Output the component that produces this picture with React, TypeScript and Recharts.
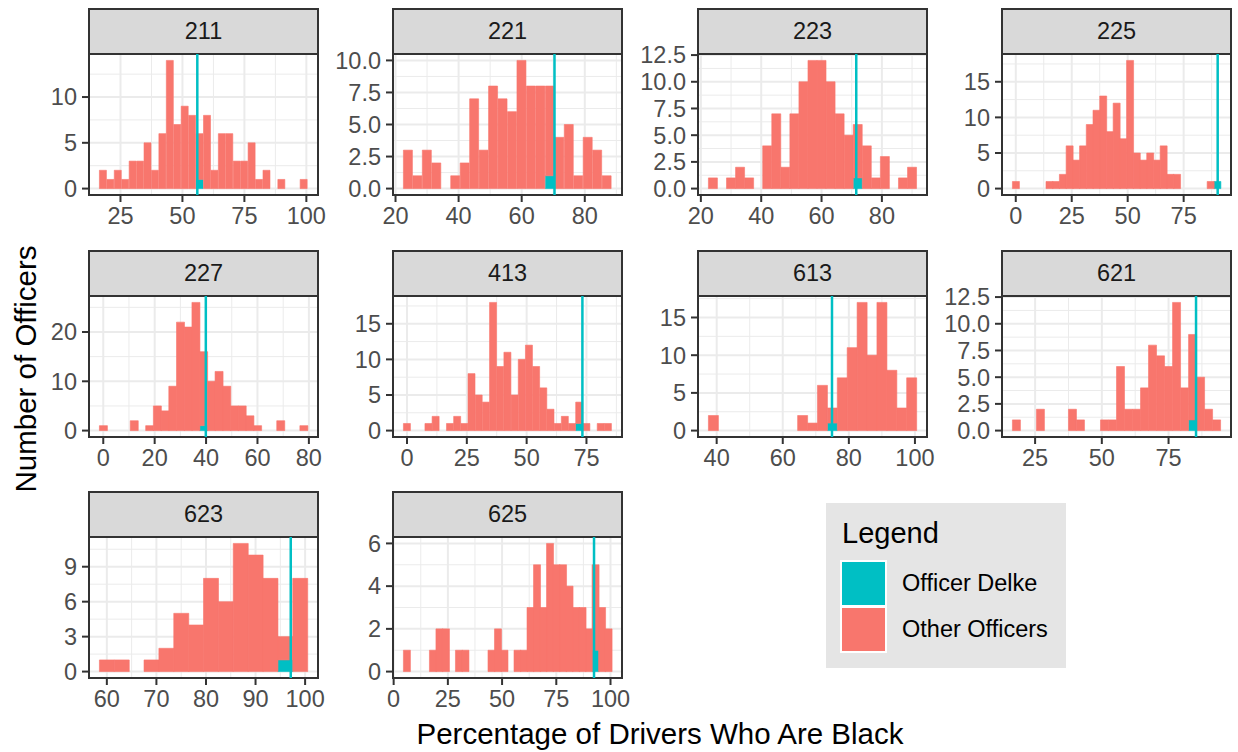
import React from "react";
import { BarChart, Bar, XAxis, YAxis, CartesianGrid, ReferenceLine, ReferenceArea } from "recharts";

const RED = "#F8766D";
const CYAN = "#00BFC4";
const FONT = '"Liberation Sans", Arial, Helvetica, sans-serif';

// facet order
const districts = ["211", "221", "223", "225", "227", "413", "613", "621", "623", "625"];

// centre of the first bin in each panel, bins are 3 points wide
const firstBin = [18, 24, 24, 0, 0, 0, 39, 18, 60, 6];
const BIN_W = 3;

// officers per bin (Delke included in his own bin)
const counts211 = [2, 1, 2, 1, 3, 3, 5, 2, 6, 14, 7, 9, 8, 6, 8, 2, 6, 6, 3, 3, 5, 1, 2, 0, 1, 0, 0, 1];
const counts221 = [3, 1, 3, 2, 0, 1, 2, 7, 3, 8, 7, 6, 10, 8, 8, 8, 4, 5, 1, 4, 3, 1];
const counts223 = [1, 0, 1, 2, 1, 0, 4, 7, 2, 7, 10, 12, 12, 10, 7, 5, 6, 4, 1, 3, 0, 1, 2];
const counts225 = [1, 0, 0, 0, 0, 1, 1, 2, 6, 4, 6, 9, 11, 13, 8, 12, 7, 18, 5, 4, 5, 4, 6, 2, 2, 0, 0, 0, 0, 1, 1];
const counts227 = [1, 0, 0, 0, 2, 0, 1, 5, 4, 9, 22, 21, 26, 16, 10, 12, 9, 5, 5, 3, 1, 0, 0, 2, 0, 0, 1];
const counts413 = [1, 0, 0, 1, 2, 0, 1, 2, 1, 8, 5, 4, 18, 9, 11, 5, 10, 12, 9, 6, 3, 1, 2, 1, 4, 1, 0, 1, 1];
const counts613 = [2, 0, 0, 0, 0, 0, 0, 0, 0, 2, 1, 6, 3, 7, 11, 17, 10, 17, 8, 3, 7];
const counts621 = [1, 0, 0, 2, 0, 0, 0, 2, 1, 0, 0, 1, 1, 6, 2, 2, 4, 8, 7, 6, 12, 4, 9, 5, 2, 1];
const counts623 = [1, 1, 0, 1, 2, 5, 4, 8, 6, 11, 10, 8, 3, 8];
const counts625 = [1, 0, 0, 0, 1, 2, 2, 0, 1, 1, 0, 0, 0, 1, 2, 1, 0, 1, 1, 3, 5, 3, 6, 5, 5, 4, 3, 3, 2, 5, 3, 2];
const binCounts = [counts211, counts221, counts223, counts225, counts227, counts413, counts613, counts621, counts623, counts625];

// Delke's own percentage, per district
const delkeShare = [56, 70.4, 71.5, 90.2, 39.9, 73.3, 74.9, 85.3, 97.1, 92.4];

const xBreaks = [
  [25, 50, 75, 100],
  [20, 40, 60, 80],
  [20, 40, 60, 80],
  [0, 25, 50, 75],
  [0, 20, 40, 60, 80],
  [0, 25, 50, 75],
  [40, 60, 80, 100],
  [25, 50, 75],
  [60, 70, 80, 90, 100],
  [0, 25, 50, 75, 100],
];
const yBreaks = [
  [0, 5, 10],
  [0, 2.5, 5, 7.5, 10],
  [0, 2.5, 5, 7.5, 10, 12.5],
  [0, 5, 10, 15],
  [0, 10, 20],
  [0, 5, 10, 15],
  [0, 5, 10, 15],
  [0, 2.5, 5, 7.5, 10, 12.5],
  [0, 3, 6, 9],
  [0, 2, 4, 6],
];

// layout
const colLeft = [89, 393, 698, 1002];
const rowTop = [54, 296, 537];
const PLOT_W = 229;
const PLOT_H = 141;
const STRIP_H = 46;
const Y_W = 85;
const X_H = 48;
const R_M = 26;
const T_M = 16;

const tickStyle = { fontSize: 23.5, fill: "#4D4D4D", fontFamily: FONT };

function minorBreaks(major: number[], lo: number, hi: number) {
  const step = major[1] - major[0];
  const out: number[] = [];
  for (let v = major[0] - step / 2; v <= hi; v += step) if (v >= lo) out.push(v);
  return out;
}

function toPx(axis: any, vals: number[]) {
  const s = axis && axis.scale;
  if (!s) return [];
  const f = typeof s === "function" ? s : typeof s.map === "function" ? (v: number) => s.map(v) : null;
  if (!f) return [];
  return vals.map((v) => f(v)).filter((p: number) => Number.isFinite(p));
}

function Panel({ i }: { i: number }) {
  const col = i % 4;
  const row = Math.floor(i / 4);
  const left = colLeft[col];
  const top = rowTop[row];
  const counts = binCounts[i];
  const start = firstBin[i];
  const dBin = Math.round((delkeShare[i] - start) / BIN_W);

  const data = counts.map((c, k) => ({
    x: start + k * BIN_W,
    delke: k === dBin ? 1 : 0,
    other: k === dBin ? c - 1 : c,
  }));

  const lo = start - BIN_W / 2;
  const hi = start + (counts.length - 1) * BIN_W + BIN_W / 2;
  const xr = hi - lo;
  const xDom: [number, number] = [lo - 0.05 * xr, hi + 0.05 * xr];
  const yMax = Math.max(...counts);
  const yDom: [number, number] = [-0.05 * yMax, yMax * 1.05];

  const xMaj = xBreaks[i].filter((v) => v >= xDom[0] && v <= xDom[1]);
  const yMaj = yBreaks[i].filter((v) => v >= yDom[0] && v <= yDom[1]);
  const xMin = minorBreaks(xBreaks[i], xDom[0], xDom[1]);
  const yMin = minorBreaks(yBreaks[i], yDom[0], yDom[1]);
  const decimals = yBreaks[i].some((v) => !Number.isInteger(v));

  return (
    <>
      <div
        style={{
          position: "absolute",
          left: left - 1,
          top: top - STRIP_H,
          width: PLOT_W + 2,
          height: STRIP_H + 1,
          boxSizing: "border-box",
          background: "#D9D9D9",
          border: "2px solid #333333",
          display: "flex",
          alignItems: "center",
          justifyContent: "center",
          fontFamily: FONT,
          fontSize: 23.5,
          color: "#1A1A1A",
        }}
      >
        {districts[i]}
      </div>
      <div style={{ position: "absolute", left: left - Y_W, top: top - T_M }}>
        <BarChart
          width={Y_W + PLOT_W + R_M}
          height={T_M + PLOT_H + X_H}
          data={data}
          margin={{ top: T_M, right: R_M, bottom: 0, left: 0 }}
          barCategoryGap={0}
          barGap={0}
        >
          <CartesianGrid
            stroke="#EBEBEB"
            strokeWidth={1}
            verticalCoordinatesGenerator={({ xAxis }: any) => toPx(xAxis, xMin)}
            horizontalCoordinatesGenerator={({ yAxis }: any) => toPx(yAxis, yMin)}
          />
          <CartesianGrid
            stroke="#EBEBEB"
            strokeWidth={2}
            verticalCoordinatesGenerator={({ xAxis }: any) => toPx(xAxis, xMaj)}
            horizontalCoordinatesGenerator={({ yAxis }: any) => toPx(yAxis, yMaj)}
          />
          <XAxis
            dataKey="x"
            type="number"
            domain={xDom}
            ticks={xMaj}
            allowDataOverflow
            interval={0}
            height={X_H}
            axisLine={false}
            tickSize={7}
            tickMargin={5}
            tickLine={{ stroke: "#333333", strokeWidth: 2 }}
            tick={tickStyle}
          />
          <YAxis
            type="number"
            domain={yDom}
            ticks={yMaj}
            allowDataOverflow
            interval={0}
            width={Y_W}
            axisLine={false}
            tickSize={7}
            tickMargin={5}
            tickLine={{ stroke: "#333333", strokeWidth: 2 }}
            tick={tickStyle}
            tickFormatter={(v: number) => (decimals ? v.toFixed(1) : String(v))}
          />
          <Bar dataKey="delke" stackId="s" fill={CYAN} stroke={CYAN} strokeWidth={0.6} isAnimationActive={false} />
          <Bar dataKey="other" stackId="s" fill={RED} stroke={RED} strokeWidth={0.6} isAnimationActive={false} />
          <ReferenceLine x={delkeShare[i]} stroke={CYAN} strokeWidth={2.5} />
          <ReferenceArea
            x1={xDom[0]}
            x2={xDom[1]}
            y1={yDom[0]}
            y2={yDom[1]}
            ifOverflow="visible"
            fill="none"
            fillOpacity={0}
            stroke="#333333"
            strokeWidth={2}
          />
        </BarChart>
      </div>
    </>
  );
}

export default function App() {
  return (
    <div
      style={{
        position: "absolute",
        left: 0,
        top: 0,
        width: 1238,
        height: 752,
        overflow: "hidden",
        background: "#FFFFFF",
        fontFamily: FONT,
      }}
    >
      {districts.map((d, i) => (
        <Panel key={d} i={i} />
      ))}

      <div
        style={{
          position: "absolute",
          left: 26,
          top: 369,
          transform: "translate(-50%, -50%) rotate(-90deg)",
          whiteSpace: "nowrap",
          fontSize: 29.5,
          lineHeight: 1,
          color: "#000",
        }}
      >
        Number of Officers
      </div>
      <div
        style={{
          position: "absolute",
          left: 660,
          top: 734,
          transform: "translate(-50%, -50%)",
          whiteSpace: "nowrap",
          fontSize: 29.5,
          lineHeight: 1,
          color: "#000",
        }}
      >
        Percentage of Drivers Who Are Black
      </div>

      <div
        style={{
          position: "absolute",
          left: 826,
          top: 503,
          width: 240,
          height: 165,
          background: "#E5E5E5",
        }}
      >
        <div style={{ position: "absolute", left: 16, top: 16, fontSize: 29, lineHeight: 1, color: "#000" }}>
          Legend
        </div>
        <div style={{ position: "absolute", left: 14, top: 57, width: 47, height: 93, background: "#FFFFFF" }} />
        <div style={{ position: "absolute", left: 16, top: 59, width: 43, height: 43, background: CYAN }} />
        <div style={{ position: "absolute", left: 16, top: 105, width: 43, height: 43, background: RED }} />
        <div
          style={{
            position: "absolute",
            left: 76,
            top: 59,
            height: 43,
            display: "flex",
            alignItems: "center",
            fontSize: 23.5,
            color: "#000",
            whiteSpace: "nowrap",
          }}
        >
          Officer Delke
        </div>
        <div
          style={{
            position: "absolute",
            left: 76,
            top: 105,
            height: 43,
            display: "flex",
            alignItems: "center",
            fontSize: 23.5,
            color: "#000",
            whiteSpace: "nowrap",
          }}
        >
          Other Officers
        </div>
      </div>
    </div>
  );
}
